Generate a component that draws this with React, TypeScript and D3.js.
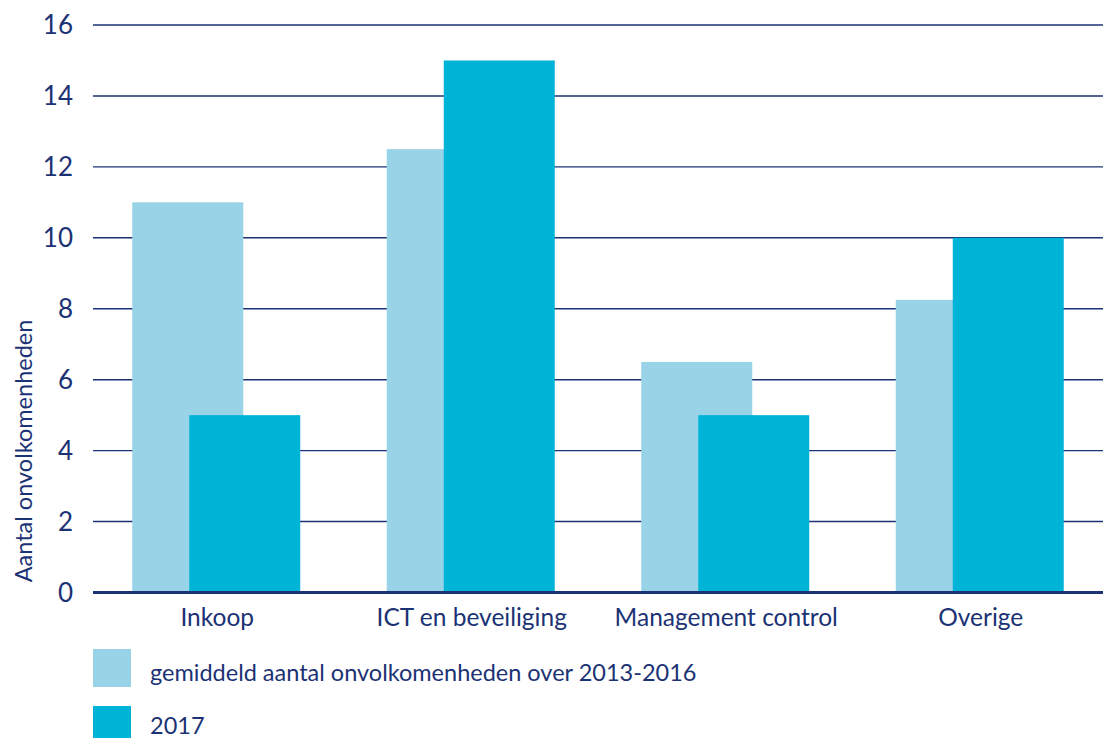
import React from "react";
import * as d3 from "d3";

const categories = ["Inkoop", "ICT en beveiliging", "Management control", "Overige"];
const avg2013_2016 = [11, 12.5, 6.5, 8.25];
const values2017 = [5, 15, 5, 10];
const yTicks = [0, 2, 4, 6, 8, 10, 12, 14, 16];
const legendLabels = ["gemiddeld aantal onvolkomenheden over 2013-2016", "2017"];

const W = 1103;
const H = 738;
const NAVY = "#1b3274";
const LIGHT = "#98d3e7";
const DARK = "#00b4d8";
const FONT = "Lato, 'Open Sans', sans-serif";

export default function App() {
  const x = d3.scaleBand<string>().domain(categories).range([89, 1107]).padding(0);
  const y = d3.scaleLinear().domain([0, 16]).range([592.5, 25]);
  const barW = 111;
  const offset = 57;

  return (
    <svg width={W} height={H} style={{ position: "absolute", left: 0, top: 0 }} fontFamily={FONT}>
      {yTicks.map((t) => (
        <g key={t}>
          {t !== 0 && (
            <line x1={93} x2={W} y1={y(t)} y2={y(t)} stroke={NAVY} strokeWidth={1.4} />
          )}
          <text x={73} y={y(t)} dy="0.36em" textAnchor="end" fontSize={26} fill={NAVY}>
            {t}
          </text>
        </g>
      ))}
      {categories.map((c, i) => {
        const cx = x(c)! + x.bandwidth() / 2;
        const lx = cx - (barW + offset) / 2;
        const dx = lx + offset;
        return (
          <g key={c}>
            <rect x={lx} y={y(avg2013_2016[i])} width={barW} height={y(0) - y(avg2013_2016[i])} fill={LIGHT} />
            <rect x={dx} y={y(values2017[i])} width={barW} height={y(0) - y(values2017[i])} fill={DARK} />
            <text x={cx + 1} y={626} textAnchor="middle" fontSize={24.5} fill={NAVY}>
              {c}
            </text>
          </g>
        );
      })}
      <line x1={93} x2={W} y1={y(0)} y2={y(0)} stroke={NAVY} strokeWidth={3} />
      <text
        transform={`translate(32, 451) rotate(-90)`}
        textAnchor="middle"
        fontSize={23.5}
        fill={NAVY}
      >
        Aantal onvolkomenheden
      </text>
      {legendLabels.map((l, i) => (
        <g key={l}>
          <rect x={93} y={649 + i * 57} width={38} height={38} fill={i === 0 ? LIGHT : DARK} />
          <text x={150} y={681 + i * 53} fontSize={23.5} fill={NAVY}>
            {l}
          </text>
        </g>
      ))}
    </svg>
  );
}
